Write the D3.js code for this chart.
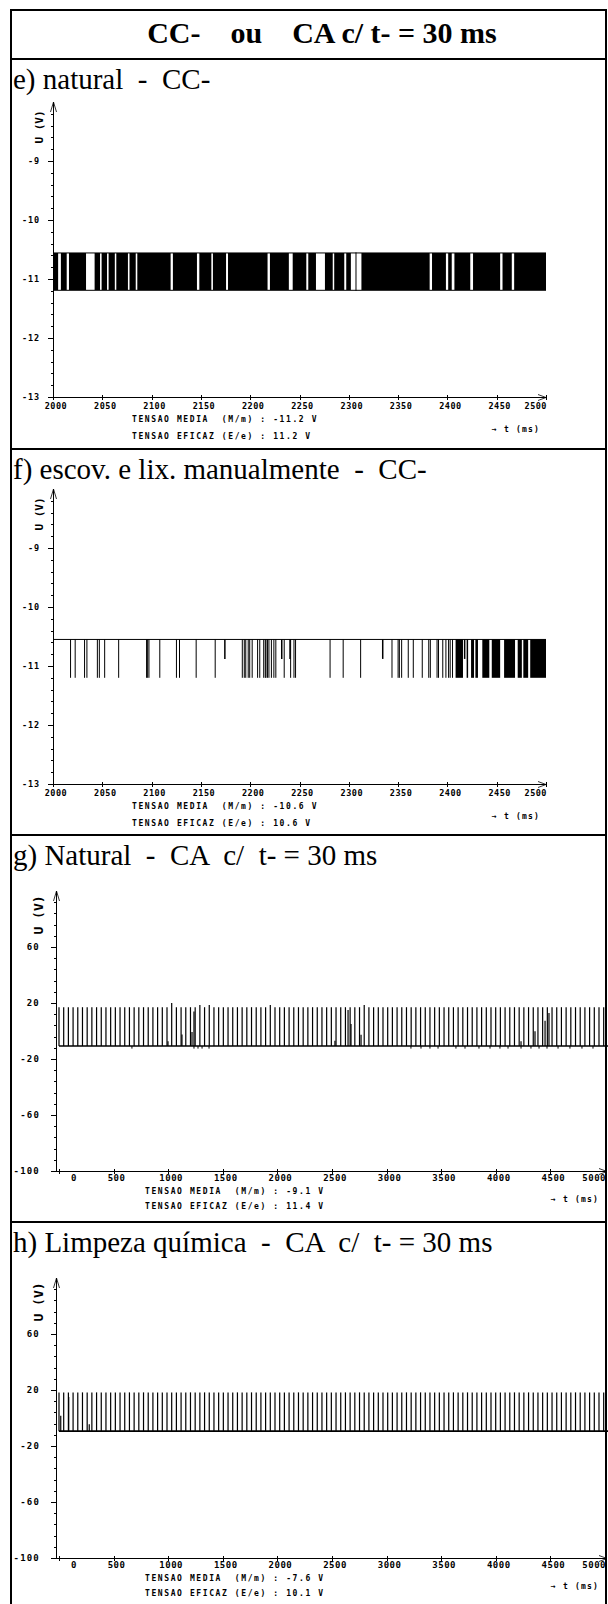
<!DOCTYPE html>
<html>
<head>
<meta charset="utf-8">
<script src="https://cdn.jsdelivr.net/npm/d3@7"></script>
<style>
  body { margin: 0; background: #fff; }
  svg text { white-space: pre; }
</style>
</head>
<body>
<svg id="chart"></svg>
<script>
// textos
const titleText = "CC-    ou    CA c/ t- = 30 ms";
const panelTitles = [
  "e) natural  -  CC-",
  "f) escov. e lix. manualmente  -  CC-",
  "g) Natural  -  CA  c/  t- = 30 ms",
  "h) Limpeza química  -  CA  c/  t- = 30 ms"
];
const mediaValues = ["-11.2", "-10.6", "-9.1", "-7.6"];
const eficazValues = ["11.2", "10.6", "11.4", "10.1"];

// eixos
const ccTicksX = [2000, 2050, 2100, 2150, 2200, 2250, 2300, 2350, 2400, 2450, 2500];
const ccTicksY = [-9, -10, -11, -12, -13];
const caTicksX = [0, 500, 1000, 1500, 2000, 2500, 3000, 3500, 4000, 4500, 5000];
const caTicksY = [60, 20, -20, -60, -100];

// e) natural CC- : sinal alterna entre dois niveis, quase sempre denso
const eLevels = [-10.55, -11.2];
const eGaps = [
  [2005.2, 2008], [2013.9, 2016.2], [2033.5, 2042.2], [2047.7, 2049.3], [2054.8, 2056.4],
  [2062.7, 2064.2], [2076, 2077.6], [2083.9, 2085.5], [2119.3, 2121.6], [2146, 2148.4],
  [2160.6, 2162.2], [2175.5, 2177.5], [2217.6, 2220], [2239.2, 2243.1], [2256.9, 2258.9],
  [2266.7, 2275.8], [2283.7, 2285.2], [2295.4, 2297.4], [2302.1, 2312.8], [2382, 2384.4],
  [2398.5, 2400.8], [2404.4, 2407.1], [2423.2, 2426], [2453.5, 2455.9], [2465.3, 2467.7]
];
const eGapPulses = [2307.3];

// f) escov. e lix. CC- : nivel alto com pulsos para baixo
const fLevels = [-10.55, -11.2];
const fPulses = [
  2017.8, 2022.5, 2032, 2034.4, 2045, 2047, 2052.4, 2066.6, 2094.9, 2096, 2097.3, 2108.3,
  2125.2, 2128.3, 2145.2, 2164.5, 2192, 2194, 2195.5, 2198, 2199.5, 2202, 2207.5, 2209.7,
  2213.7, 2215.3, 2216, 2217.5, 2219, 2221.5, 2224, 2226, 2234.5, 2241, 2244.4, 2246,
  2281, 2294.3, 2312, 2343.8, 2350, 2351.3, 2353.6, 2360.3, 2365.4, 2374.5, 2381.1, 2382.7,
  2389.5, 2391, 2395.3, 2398.5, 2401.2, 2402.8, 2405.2
];
const fMidLevel = -10.88;
const fMidPulses = [2174.3, 2232, 2240.4, 2334.4, 2417.5];
const fBursts = [
  [2408.3, 2415.8], [2419.5, 2421], [2424, 2427], [2428.4, 2431], [2435.4, 2442.5],
  [2445, 2453.5], [2457.5, 2468.6], [2471.3, 2475.5], [2477, 2481.9], [2484, 2500]
];

// g) Natural CA : pulsos periodicos sobre linha de base
const gBase = -10.7;
const gPeriod = 43;
const gPeaks = [
  17, 17, 17, 17, 17, 17, 17, 17, 17, 17, 17, 17, 17, 17, 17, 17, 17, 17, 17, 17,
  17, 17, 17, 17, 20, 17, 17, 17, 17, 17, 18.5, 17, 18.5, 17, 17, 17, 17, 17, 17, 17,
  17, 17, 17, 17, 17, 18.5, 17, 17, 17, 17, 17, 17, 17, 17, 17, 17, 17, 17, 17, 17,
  17, 17, 17, 17, 17, 18.5, 17, 17, 17, 17, 17, 17, 17, 17, 17, 17, 17, 17, 17, 17,
  17, 17, 17, 17, 17, 17, 17, 17, 17, 17, 17, 17, 17, 17, 17, 17, 17, 17, 17, 17,
  17, 17, 17, 17, 17, 17, 17, 17, 17, 17, 17, 17, 17, 17, 17, 17, 17
];
const gExtra = [
  [998, -7.4], [1126, -2.5], [1218, -0.8], [1236, 14], [2527, -7], [2647, 15],
  [2674, 5], [2766, -2.6], [4231, -7.4], [4359, -0.2], [4451, 7.4], [4487, 12.9]
];
const gDips = [
  668, 1236, 1273, 1310, 1374, 3223, 3315, 3397, 3471, 3635, 3718, 3846,
  3947, 4038, 4112, 4231, 4322, 4396, 4469, 4570, 4679, 4789, 4890
];
const gDipLevel = -12.6;

// h) Limpeza quimica CA
const hBase = -9.4;
const hPeriod = 43;
const hPeaks = [
  18.3, 18.3, 18.3, 18.3, 18.3, 18.3, 18.3, 18.3, 18.3, 18.3, 18.3, 18.3, 18.3, 18.3, 18.3, 18.3, 18.3, 18.3, 18.3, 18.3,
  18.3, 18.3, 18.3, 18.3, 18.3, 18.3, 18.3, 18.3, 18.3, 18.3, 18.3, 18.3, 18.3, 18.3, 18.3, 18.3, 18.3, 18.3, 18.3, 18.3,
  18.3, 18.3, 18.3, 18.3, 18.3, 18.3, 18.3, 18.3, 18.3, 18.3, 18.3, 18.3, 18.3, 18.3, 18.3, 18.3, 18.3, 18.3, 18.3, 18.3,
  18.3, 18.3, 18.3, 18.3, 18.3, 18.3, 18.3, 18.3, 18.3, 18.3, 18.3, 18.3, 18.3, 18.3, 18.3, 18.3, 18.3, 18.3, 18.3, 18.3,
  18.3, 18.3, 18.3, 18.3, 18.3, 18.3, 18.3, 18.3, 18.3, 18.3, 18.3, 18.3, 18.3, 18.3, 18.3, 18.3, 18.3, 18.3, 18.3, 18.3,
  18.3, 18.3, 18.3, 18.3, 18.3, 18.3, 18.3, 18.3, 18.3, 18.3, 18.3, 18.3, 18.3, 18.3, 18.3, 18.3, 18.3
];
const hExtra = [[16, 1.6], [89, 15], [277, -4.5]];

// ---------------------------------------------------------------
const W = 608, H = 1604;
const mono = "'DejaVu Sans Mono', monospace";
const serif = "'Liberation Serif', 'Times New Roman', serif";

const svg = d3.select("#chart").attr("width", W).attr("height", H);
svg.append("rect").attr("width", W).attr("height", H).attr("fill", "#fff");

// moldura da tabela
const panelTops = [59, 449, 835, 1222];
const frame = svg.append("g").attr("stroke", "#000").attr("stroke-width", 2);
frame.append("line").attr("x1", 11).attr("x2", 11).attr("y1", 10).attr("y2", H);
frame.append("line").attr("x1", 606).attr("x2", 606).attr("y1", 10).attr("y2", H);
frame.append("line").attr("x1", 10).attr("x2", 607).attr("y1", 10).attr("y2", 10);
panelTops.forEach(t => {
  frame.append("line").attr("x1", 10).attr("x2", 607).attr("y1", t).attr("y2", t);
});

svg.append("text")
  .attr("x", 322).attr("y", 43)
  .attr("text-anchor", "middle")
  .attr("font-family", serif).attr("font-weight", "bold").attr("font-size", 30)
  .text(titleText);

function drawPanel(i, kind) {
  const top = panelTops[i];
  const cc = kind === "cc";
  const g = svg.append("g");
  const axisY = cc ? (i === 0 ? 397 : 784) : top + 336;
  const axisX = cc ? 53 : 56;
  const labSize = cc ? 8.5 : 9;

  const x = d3.scaleLinear()
    .domain(cc ? [2000, 2500] : [0, 5000])
    .range(cc ? [53, 546] : [59, 605]);
  const y = d3.scaleLinear()
    .domain(cc ? [-13, -8] : [-100, 100])
    .range([axisY, axisY - (cc ? 295 : 280)]);

  // cabecalho do painel
  g.append("text")
    .attr("x", 13).attr("y", top + 30)
    .attr("font-family", serif).attr("font-size", 29)
    .text(panelTitles[i]);

  // eixo y
  const yTop = y.range()[1];
  g.append("line").attr("x1", axisX + 0.5).attr("x2", axisX + 0.5).attr("y1", axisY).attr("y2", yTop)
    .attr("stroke", "#000");
  g.append("path")
    .attr("d", `M${axisX - 2.5},${yTop + 10}L${axisX + 0.5},${yTop}L${axisX + 3.5},${yTop + 10}`)
    .attr("fill", "none").attr("stroke", "#000").attr("stroke-width", 0.8);

  const dom = y.domain();
  const minor = d3.range(dom[0], dom[1] - 1e-6, cc ? 0.2 : 8);
  g.selectAll(".minor").data(minor).enter().append("line")
    .attr("x1", axisX - 2).attr("x2", axisX + 1)
    .attr("y1", d => Math.round(y(d)) + 0.5).attr("y2", d => Math.round(y(d)) + 0.5)
    .attr("stroke", "#000");
  const yTicks = cc ? ccTicksY : caTicksY;
  g.selectAll(".major").data(yTicks).enter().append("line")
    .attr("x1", axisX - 5).attr("x2", axisX + 1)
    .attr("y1", d => Math.round(y(d)) + 0.5).attr("y2", d => Math.round(y(d)) + 0.5)
    .attr("stroke", "#000");
  g.selectAll(".ylab").data(yTicks).enter().append("text")
    .attr("x", axisX - (cc ? 13 : 16)).attr("y", d => y(d) + 3)
    .attr("text-anchor", "end")
    .attr("font-family", mono).attr("font-weight", "bold").attr("font-size", labSize)
    .attr("letter-spacing", cc ? 0.9 : 1.2)
    .text(d => d);

  g.append("text")
    .attr("transform", `translate(${axisX - (cc ? 10 : 13)},${yTop + (cc ? 25 : 24)}) rotate(-90)`)
    .attr("text-anchor", "middle")
    .attr("font-family", mono).attr("font-weight", "bold").attr("font-size", cc ? 11 : 13)
    .text("U (V)");

  // eixo x
  const xEnd = cc ? x.range()[1] : 607;
  g.append("line").attr("x1", axisX).attr("x2", xEnd).attr("y1", axisY + 0.5).attr("y2", axisY + 0.5)
    .attr("stroke", "#000");
  g.append("path")
    .attr("d", `M${xEnd - 8},${axisY - 2.5}L${xEnd},${axisY + 0.5}L${xEnd - 8},${axisY + 3.5}`)
    .attr("fill", "none").attr("stroke", "#000").attr("stroke-width", 0.8);

  const xTicks = cc ? ccTicksX : caTicksX;
  g.selectAll(".xtick").data(xTicks).enter().append("line")
    .attr("x1", d => Math.round(x(d)) + 0.5).attr("x2", d => Math.round(x(d)) + 0.5)
    .attr("y1", axisY - 2).attr("y2", axisY + 3)
    .attr("stroke", "#000");
  g.selectAll(".xlab").data(xTicks).enter().append("text")
    .attr("x", (d, j) => {
      if (j === xTicks.length - 1) return x(d) + 1;
      if (j === 0 && !cc) return x(d) + 15;
      return x(d) + 3;
    })
    .attr("y", axisY + (cc ? 12 : 10))
    .attr("text-anchor", (d, j) => j === xTicks.length - 1 ? "end" : "middle")
    .attr("font-family", mono).attr("font-weight", "bold").attr("font-size", labSize)
    .attr("letter-spacing", 0.5)
    .text(d => d);

  // rodape
  const fx = cc ? 132 : 145;
  const foot = g.append("g")
    .attr("font-family", mono).attr("font-weight", "bold").attr("font-size", 8)
    .attr("letter-spacing", 1.6);
  foot.append("text").attr("x", fx).attr("y", axisY + (cc ? 25 : 23))
    .text(`TENSAO MEDIA  (M/m) : ${mediaValues[i]} V`);
  foot.append("text").attr("x", fx).attr("y", axisY + (cc ? 42 : 38))
    .text(`TENSAO EFICAZ (E/e) : ${eficazValues[i]} V`);
  foot.append("text").attr("x", cc ? 540 : 599).attr("y", axisY + (cc ? 35 : 31))
    .attr("text-anchor", "end").attr("letter-spacing", 1.2)
    .text("\u2192 t (ms)");

  return { g, x, y };
}

// ---- e) ----
{
  const { g, x, y } = drawPanel(0, "cc");
  g.append("rect")
    .attr("x", x(2000)).attr("width", x(2500) - x(2000))
    .attr("y", y(eLevels[0])).attr("height", y(eLevels[1]) - y(eLevels[0]))
    .attr("fill", "#000");
  g.selectAll(".gap").data(eGaps).enter().append("rect")
    .attr("x", d => x(d[0])).attr("width", d => x(d[1]) - x(d[0]))
    .attr("y", y(eLevels[0]) + 1).attr("height", y(eLevels[1]) - y(eLevels[0]) - 2)
    .attr("fill", "#fff");
  g.selectAll(".gp").data(eGapPulses).enter().append("line")
    .attr("x1", d => x(d)).attr("x2", d => x(d))
    .attr("y1", y(eLevels[0])).attr("y2", y(eLevels[1]))
    .attr("stroke", "#000");
}

// ---- f) ----
{
  const { g, x, y } = drawPanel(1, "cc");
  g.append("line")
    .attr("x1", x(2000)).attr("x2", x(2500))
    .attr("y1", y(fLevels[0])).attr("y2", y(fLevels[0]))
    .attr("stroke", "#000");
  g.selectAll(".pulse").data(fPulses).enter().append("line")
    .attr("x1", d => x(d)).attr("x2", d => x(d))
    .attr("y1", y(fLevels[0])).attr("y2", y(fLevels[1]))
    .attr("stroke", "#000");
  g.selectAll(".mid").data(fMidPulses).enter().append("line")
    .attr("x1", d => x(d)).attr("x2", d => x(d))
    .attr("y1", y(fLevels[0])).attr("y2", y(fMidLevel))
    .attr("stroke", "#000").attr("stroke-width", 1.5);
  g.selectAll(".burst").data(fBursts).enter().append("rect")
    .attr("x", d => x(d[0])).attr("width", d => x(d[1]) - x(d[0]))
    .attr("y", y(fLevels[0])).attr("height", y(fLevels[1]) - y(fLevels[0]))
    .attr("fill", "#000");
}

// ---- g) e h) ----
function drawTrain(i, base, period, peaks, extra, dips, dipLevel) {
  const { g, x, y } = drawPanel(i, "ca");
  g.append("line")
    .attr("x1", x(0)).attr("x2", W)
    .attr("y1", y(base)).attr("y2", y(base))
    .attr("stroke", "#000").attr("stroke-width", 1.6);
  g.selectAll(".spike").data(peaks).enter().append("line")
    .attr("x1", (d, k) => x(k * period)).attr("x2", (d, k) => x(k * period))
    .attr("y1", y(base)).attr("y2", d => y(d))
    .attr("stroke", "#000").attr("stroke-width", 1.2);
  g.selectAll(".extra").data(extra).enter().append("line")
    .attr("x1", d => x(d[0])).attr("x2", d => x(d[0]))
    .attr("y1", y(base)).attr("y2", d => y(d[1]))
    .attr("stroke", "#000").attr("stroke-width", 1.2);
  g.selectAll(".dip").data(dips).enter().append("line")
    .attr("x1", d => x(d)).attr("x2", d => x(d))
    .attr("y1", y(base)).attr("y2", y(dipLevel))
    .attr("stroke", "#000");
}
drawTrain(2, gBase, gPeriod, gPeaks, gExtra, gDips, gDipLevel);
drawTrain(3, hBase, hPeriod, hPeaks, hExtra, [], hBase);
</script>
</body>
</html>
